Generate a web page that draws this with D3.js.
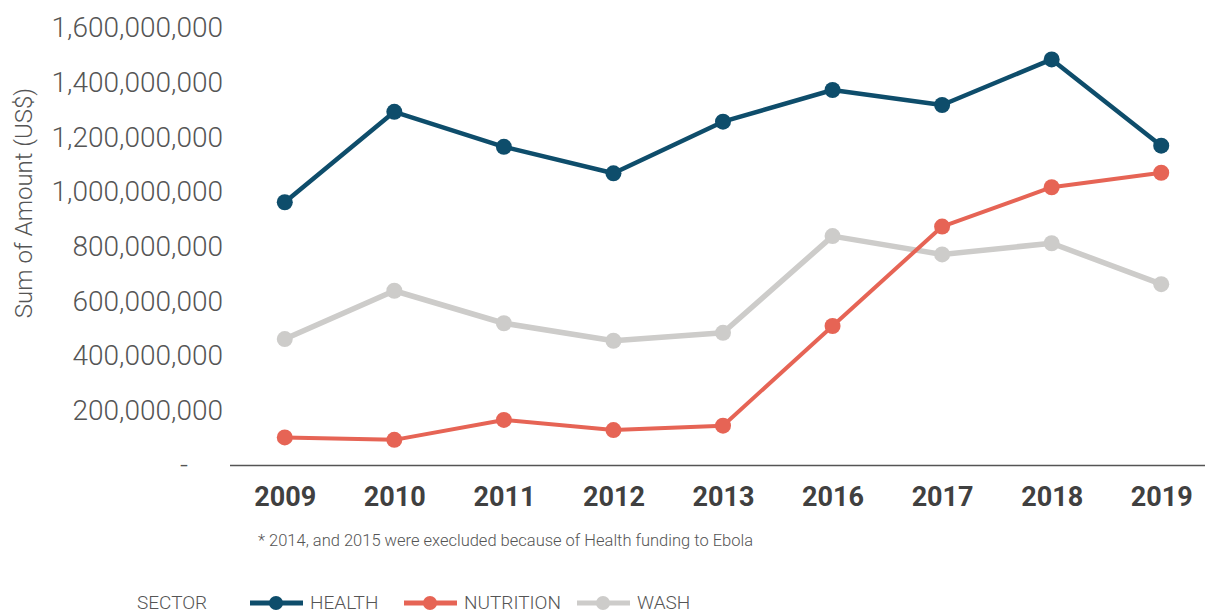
<!DOCTYPE html>
<html>
<head>
<meta charset="utf-8">
<script src="https://cdn.jsdelivr.net/npm/d3@7/dist/d3.min.js"></script>
<style>
  body { margin: 0; background: #fff; }
  svg { font-family: Roboto, "Noto Sans", sans-serif; display: block; }
</style>
</head>
<body>
<script>
var years = ["2009", "2010", "2011", "2012", "2013", "2016", "2017", "2018", "2019"];
var health    = [962e6, 1293e6, 1165e6, 1068e6, 1257e6, 1373e6, 1318e6, 1485e6, 1169e6];
var nutrition = [101e6, 92e6, 165e6, 128e6, 144e6, 509e6, 873e6, 1017e6, 1070e6];
var wash      = [461e6, 638e6, 519e6, 455e6, 484e6, 838e6, 771e6, 812e6, 662e6];
var yTicks = [0, 200e6, 400e6, 600e6, 800e6, 1000e6, 1200e6, 1400e6, 1600e6];

var width = 1205, height = 614;
var svg = d3.select("body").append("svg").attr("width", width).attr("height", height);

var x = d3.scalePoint().domain(years).range([230, 1216]).padding(0.5);
var y = d3.scaleLinear().domain([0, 1600e6]).range([465, 28]);

var series = [
  {name: "WASH", values: wash, color: "#cdccca", width: 5.5},
  {name: "NUTRITION", values: nutrition, color: "#e66455", width: 4},
  {name: "HEALTH", values: health, color: "#0e4d6b", width: 4.5}
];

// y axis
var fmt = d3.format(",");
var yAxis = svg.append("g")
    .attr("transform", "translate(230,0)")
    .call(d3.axisLeft(y).tickValues(yTicks).tickSize(0).tickPadding(7)
      .tickFormat(function(d){ return d === 0 ? "-" : fmt(d); }));
yAxis.select(".domain").remove();
yAxis.selectAll("text")
    .attr("font-family", "Roboto")
    .attr("font-weight", 300)
    .attr("font-size", 28)
    .attr("fill", "#555")
    .attr("x", function(d){ return d === 0 ? -42 : -7; });

svg.append("text")
    .attr("transform", "translate(32," + 203 + ") rotate(-90)")
    .attr("text-anchor", "middle")
    .attr("font-weight", 300)
    .attr("font-size", 24)
    .attr("fill", "#555")
    .text("Sum of Amount (US$)");

// x axis
var xAxis = svg.append("g")
    .attr("transform", "translate(0,465)")
    .call(d3.axisBottom(x).tickSize(0).tickPadding(22));
xAxis.select(".domain").remove();
xAxis.selectAll("text")
    .attr("font-family", "Roboto")
    .attr("font-weight", 700)
    .attr("font-size", 27)
    .attr("fill", "#404040");

svg.append("line")
    .attr("x1", 230).attr("x2", 1205)
    .attr("y1", 465.5).attr("y2", 465.5)
    .attr("stroke", "#555").attr("stroke-width", 1.5);

// lines
var line = d3.line()
    .x(function(d, i){ return x(years[i]); })
    .y(function(d){ return y(d); });

series.forEach(function(s){
  var g = svg.append("g");
  g.append("path")
      .attr("d", line(s.values))
      .attr("fill", "none")
      .attr("stroke", s.color)
      .attr("stroke-width", s.width)
      .attr("stroke-linejoin", "round");
  g.selectAll("circle")
      .data(s.values)
      .enter().append("circle")
        .attr("cx", function(d, i){ return x(years[i]); })
        .attr("cy", function(d){ return y(d); })
        .attr("r", 8)
        .attr("fill", s.color);
});

// footnote
svg.append("text")
    .attr("x", 258).attr("y", 546)
    .attr("font-weight", 300)
    .attr("font-size", 16.5)
    .attr("fill", "#555")
    .text("* 2014, and 2015 were execluded because of Health funding to Ebola");

// legend
svg.append("text")
    .attr("x", 137).attr("y", 609)
    .attr("font-weight", 300)
    .attr("font-size", 19)
    .attr("fill", "#555")
    .text("SECTOR");

var legendItems = [
  {name: "HEALTH", color: "#0e4d6b", x: 250},
  {name: "NUTRITION", color: "#e66455", x: 404},
  {name: "WASH", color: "#cdccca", x: 577}
];
legendItems.forEach(function(d){
  var g = svg.append("g").attr("transform", "translate(" + d.x + ",603)");
  g.append("line").attr("x1", 0).attr("x2", 53).attr("y1", 0).attr("y2", 0)
      .attr("stroke", d.color).attr("stroke-width", 5);
  g.append("circle").attr("cx", 26).attr("cy", 0).attr("r", 7).attr("fill", d.color);
  g.append("text").attr("x", 60).attr("y", 6)
      .attr("font-weight", 300)
      .attr("font-size", 19)
      .attr("fill", "#555")
      .text(d.name);
});
</script>
</body>
</html>
